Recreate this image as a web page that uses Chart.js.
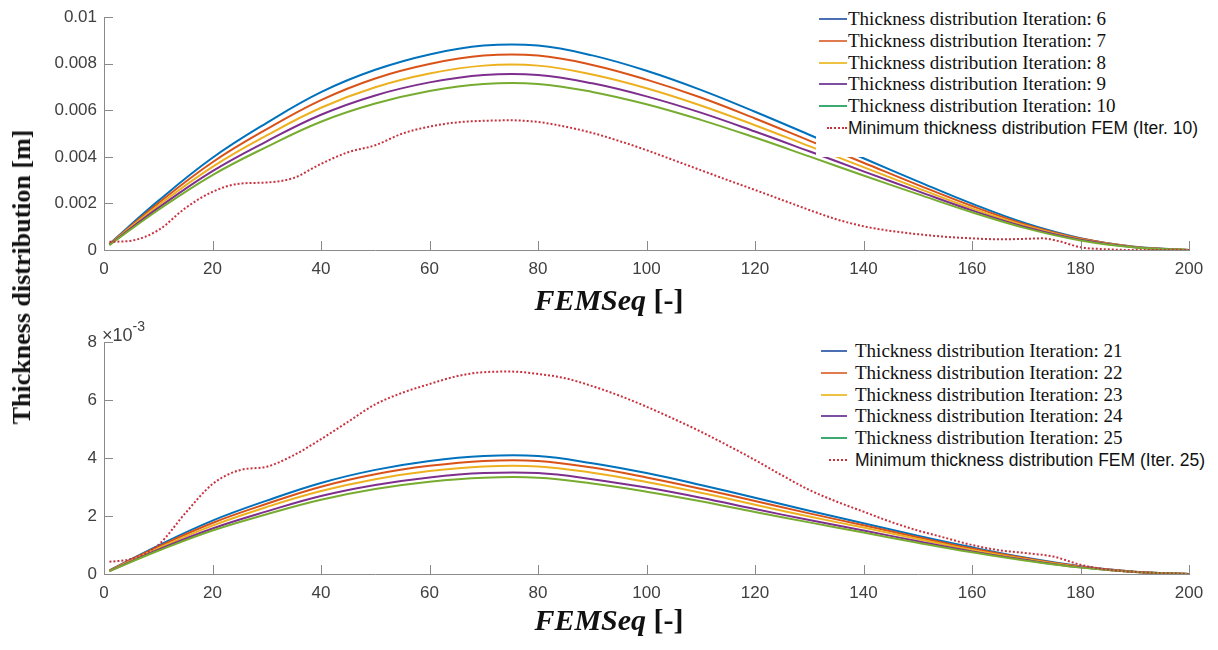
<!DOCTYPE html>
<html>
<head>
<meta charset="utf-8">
<script src="https://cdn.jsdelivr.net/npm/chart.js@4.4.1/dist/chart.umd.min.js"></script>
<style>
  body{margin:0;background:#fff;}
  #wrap{position:relative;width:1218px;height:650px;overflow:hidden;background:#fff;}
  canvas{position:absolute;left:0;}
  #c1{top:0;}
  #c2{top:300px;}
  .xtitle{position:absolute;width:1218px;left:0;text-align:center;font-family:"Liberation Serif","Times New Roman",serif;font-weight:bold;font-size:30px;line-height:30px;color:#111;}
  .xtitle i{font-style:italic;}
  #ytitle{position:absolute;left:22px;top:277px;transform:translate(-50%,-50%) rotate(-90deg);white-space:nowrap;font-family:"Liberation Serif","Times New Roman",serif;font-weight:bold;font-size:26px;line-height:26px;color:#111;}
  #expo{position:absolute;left:102px;top:321px;font-family:"Liberation Sans",Arial,sans-serif;font-size:18px;color:#404040;}
  #expo sup{font-size:14px;position:relative;top:-3px;}
  .legend{position:absolute;background:#fff;}
  .row{position:absolute;left:0;height:22px;white-space:nowrap;}
  .row .smp{position:absolute;top:10px;height:0;}
  .row .lbl{position:absolute;top:0;line-height:22px;color:#111;}
  .serif{font-family:"Liberation Serif","Times New Roman",serif;font-size:19px;}
  .sans{font-family:"Liberation Sans",Arial,sans-serif;font-size:17.5px;color:#111;}
</style>
</head>
<body>
<div id="wrap">
  <canvas id="c1" width="1218" height="290"></canvas>
  <canvas id="c2" width="1218" height="320"></canvas>
  <div class="xtitle" style="top:285px;"><i>FEMSeq</i> [-]</div>
  <div class="xtitle" style="top:605px;"><i>FEMSeq</i> [-]</div>
  <div id="ytitle">Thickness distribution [m]</div>
  <div id="expo">&times;10<sup>-3</sup></div>
  <div class="legend" id="leg1" style="left:816px;top:2px;width:400px;height:155px;"></div>
  <div class="legend" id="leg2" style="left:816px;top:336px;width:400px;height:136px;"></div>
</div>
<script>
// FEMSeq positions for the smooth thickness curves
const xsSolid = [1,10,20,30,40,50,60,70,80,90,100,110,120,130,140,150,160,170,180,190,200];

// top panel, thickness [m]
const iter6  = [0.00026,0.00211,0.00396,0.00546,0.00678,0.00774,0.00840,0.00878,0.00878,0.00836,0.00770,0.00688,0.00594,0.00495,0.00394,0.00295,0.00199,0.00114,0.00051,0.00014,0];
const iter7  = [0.00025,0.00201,0.00377,0.00519,0.00644,0.00737,0.00799,0.00835,0.00835,0.00795,0.00732,0.00655,0.00565,0.00470,0.00375,0.00280,0.00189,0.00109,0.00049,0.00013,0];
const iter8  = [0.00024,0.00191,0.00357,0.00492,0.00611,0.00699,0.00758,0.00792,0.00792,0.00754,0.00695,0.00621,0.00536,0.00446,0.00356,0.00266,0.00179,0.00103,0.00046,0.00013,0];
const iter9  = [0.00023,0.00181,0.00339,0.00467,0.00581,0.00664,0.00720,0.00752,0.00752,0.00716,0.00660,0.00590,0.00509,0.00424,0.00338,0.00253,0.00170,0.00098,0.00044,0.00012,0];
const iter10 = [0.00021,0.00172,0.00322,0.00443,0.00551,0.00629,0.00683,0.00713,0.00713,0.00679,0.00626,0.00559,0.00483,0.00402,0.00320,0.00240,0.00162,0.00093,0.00041,0.00011,0];

const xsMinTop = [1,5,10,15,20,25,30,35,40,45,50,55,60,65,70,75,80,85,90,95,100,105,110,115,120,125,130,135,140,145,150,155,160,165,170,173,176,180,185,190,200];
const minIter10 = [0.00035,0.0004,0.00085,0.0018,0.0025,0.00285,0.0029,0.0031,0.0037,0.0042,0.0045,0.0050,0.0053,0.00548,0.00555,0.00557,0.0055,0.0053,0.00503,0.00468,0.00429,0.00386,0.00343,0.003,0.00258,0.00215,0.00172,0.00132,0.00102,0.00082,0.00068,0.00057,0.0005,0.00046,0.00048,0.0005,0.00038,0.00012,0.00003,0,0];

// bottom panel, thickness [x10^-3 m]
const iter21 = [0.12,0.98,1.84,2.53,3.14,3.59,3.90,4.07,4.07,3.82,3.48,3.07,2.63,2.18,1.75,1.32,0.92,0.56,0.27,0.08,0];
const iter22 = [0.12,0.94,1.76,2.42,3.01,3.44,3.73,3.90,3.90,3.67,3.33,2.94,2.52,2.09,1.68,1.27,0.88,0.54,0.26,0.08,0];
const iter23 = [0.11,0.89,1.67,2.31,2.86,3.27,3.55,3.71,3.71,3.49,3.17,2.80,2.39,1.98,1.60,1.21,0.83,0.51,0.24,0.07,0];
const iter24 = [0.10,0.84,1.57,2.16,2.69,3.07,3.33,3.48,3.48,3.27,2.98,2.63,2.24,1.86,1.50,1.13,0.78,0.48,0.23,0.07,0];
const iter25 = [0.10,0.80,1.50,2.06,2.56,2.93,3.18,3.32,3.32,3.12,2.84,2.51,2.14,1.78,1.43,1.08,0.75,0.46,0.22,0.07,0];

const xsMinBot = [1,5,10,15,20,25,30,35,40,45,50,55,60,65,70,75,80,85,90,95,100,105,110,115,120,125,130,135,140,145,150,155,160,165,170,175,180,185,190,195,200];
const minIter25 = [0.42,0.52,1.0,2.1,3.1,3.58,3.7,4.1,4.65,5.25,5.85,6.25,6.55,6.82,6.96,6.98,6.9,6.75,6.48,6.15,5.77,5.35,4.91,4.43,3.93,3.4,2.9,2.5,2.15,1.8,1.5,1.25,1.0,0.82,0.72,0.6,0.32,0.15,0.07,0.03,0];

const xTicks = [0,20,40,60,80,100,120,140,160,180,200];
const yTicksTop = [0,0.002,0.004,0.006,0.008,0.01];
const yTicksBot = [0,2,4,6,8];

const topLabels = ['Thickness distribution Iteration: 6','Thickness distribution Iteration: 7','Thickness distribution Iteration: 8','Thickness distribution Iteration: 9','Thickness distribution Iteration: 10','Minimum thickness distribution FEM (Iter. 10)'];
const botLabels = ['Thickness distribution Iteration: 21','Thickness distribution Iteration: 22','Thickness distribution Iteration: 23','Thickness distribution Iteration: 24','Thickness distribution Iteration: 25','Minimum thickness distribution FEM (Iter. 25)'];

const colors = ['#0072BD','#D95319','#EDB120','#7E2F8E','#77AC30','#C8323F'];
const legendColors = ['#4A6FB5','#E07B4F','#EDC240','#7E4FA0','#3DAA72','#C8323F'];
const axisGray = '#8a8a8a';
const tickColor = '#404040';

function pts(xs, ys){ return xs.map((x,i)=>({x:x, y:ys[i]})); }

function makeSets(solid, xsMin, minVals, labels){
  const sets = solid.map((vals,i)=>({
    label: labels[i], data: pts(xsSolid, vals),
    borderColor: colors[i], borderWidth: 2, pointRadius: 0,
    tension: 0.4, order: 10 - i
  }));
  sets.push({
    label: labels[5], data: pts(xsMin, minVals),
    borderColor: colors[5], borderWidth: 2, borderDash: [2,2], pointRadius: 0,
    cubicInterpolationMode: 'monotone', order: 0
  });
  return sets;
}

// MATLAB style ticks pointing into the axes
const inwardTicks = {
  id: 'inwardTicks',
  afterDraw(chart){
    const {ctx, chartArea: a, scales: {x, y}} = chart;
    ctx.save();
    ctx.strokeStyle = axisGray;
    ctx.lineWidth = 1;
    ctx.beginPath();
    x.ticks.forEach(t=>{
      const px = Math.round(x.getPixelForValue(t.value)) + 0.5;
      ctx.moveTo(px, a.bottom); ctx.lineTo(px, a.bottom - 9);
    });
    y.ticks.forEach(t=>{
      const py = Math.round(y.getPixelForValue(t.value)) + 0.5;
      ctx.moveTo(a.left, py); ctx.lineTo(a.left + 9, py);
    });
    ctx.stroke();
    ctx.restore();
  }
};

function makeChart(id, sets, yMax, yTicks, padTop, xHeight, fmt){
  return new Chart(document.getElementById(id), {
    type: 'line',
    data: { datasets: sets },
    plugins: [inwardTicks],
    options: {
      responsive: false,
      animation: false,
      layout: { padding: { left: 0, right: 29, top: padTop, bottom: 0 } },
      plugins: { legend: { display: false }, tooltip: { enabled: false } },
      scales: {
        x: {
          type: 'linear', min: 0, max: 200,
          afterFit: s => { s.height = xHeight; },
          afterBuildTicks: s => { s.ticks = xTicks.map(v=>({value:v})); },
          grid: { display: false, drawTicks: false },
          border: { display: true, color: axisGray, width: 1 },
          ticks: { padding: 9, color: tickColor, font: { family: '"Liberation Sans", Arial, sans-serif', size: 17 }, maxRotation: 0 }
        },
        y: {
          min: 0, max: yMax,
          afterFit: s => { s.width = 104; },
          afterBuildTicks: s => { s.ticks = yTicks.map(v=>({value:v})); },
          grid: { display: false, drawTicks: false },
          border: { display: true, color: axisGray, width: 1 },
          ticks: { padding: 7, color: tickColor, font: { family: '"Liberation Sans", Arial, sans-serif', size: 17 }, callback: fmt }
        }
      }
    }
  });
}

makeChart('c1', makeSets([iter6,iter7,iter8,iter9,iter10], xsMinTop, minIter10, topLabels),
  0.01, yTicksTop, 17, 40, v => String(+v.toFixed(3)));
makeChart('c2', makeSets([iter21,iter22,iter23,iter24,iter25], xsMinBot, minIter25, botLabels),
  8, yTicksBot, 42, 46, v => String(v));

// legends (html, drawn over the plots with a white box like the original)
function buildLegend(elId, labels, rowTop, smpLeft, smpW, txtLeft){
  const el = document.getElementById(elId);
  labels.forEach((lab,i)=>{
    const dotted = i === 5;
    const row = document.createElement('div');
    row.className = 'row';
    row.style.top = (rowTop + i*21.8) + 'px';
    row.style.width = '400px';
    const smp = document.createElement('div');
    smp.className = 'smp';
    smp.style.left = (dotted ? smpLeft + 8 : smpLeft) + 'px';
    smp.style.width = (dotted ? smpW - 8 : smpW) + 'px';
    smp.style.borderTop = '2px ' + (dotted ? 'dotted ' : 'solid ') + legendColors[i];
    const txt = document.createElement('div');
    txt.className = 'lbl ' + (dotted ? 'sans' : 'serif');
    txt.style.left = txtLeft + 'px';
    txt.textContent = lab;
    row.appendChild(smp); row.appendChild(txt);
    el.appendChild(row);
  });
}
buildLegend('leg1', topLabels, 6, 3, 28, 32);
buildLegend('leg2', botLabels, 4, 5, 26, 39);
</script>
</body>
</html>
